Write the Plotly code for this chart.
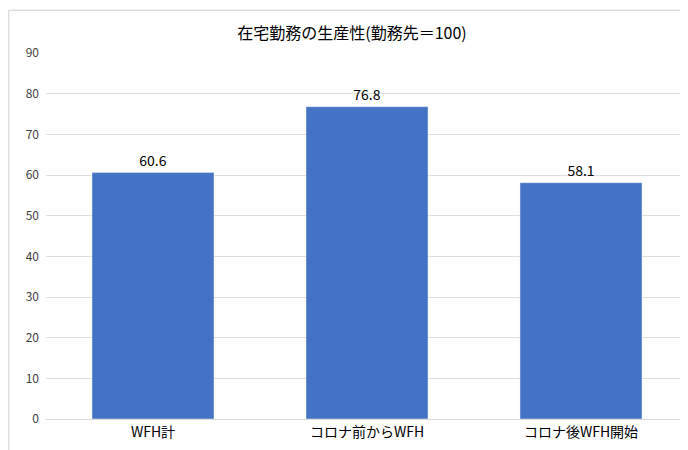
import plotly.graph_objects as go

categories = ["WFH計", "コロナ前からWFH", "コロナ後WFH開始"]
values = [60.6, 76.8, 58.1]
title = "在宅勤務の生産性(勤務先＝100)"

fig = go.Figure()
fig.add_trace(go.Bar(
    x=categories,
    y=values,
    marker=dict(color="#4472C4"),
    text=[f"{v:.1f}" for v in values],
    textposition="outside",
    textfont=dict(size=14, color="#000000"),
    cliponaxis=False,
))

fig.update_layout(
    width=688, height=450,
    title=dict(text=title, x=0.5, y=0.955, xanchor="center",
               font=dict(size=16, color="#000000")),
    font=dict(family="Noto Sans CJK JP", size=14, color="#000000"),
    plot_bgcolor="white", paper_bgcolor="white",
    margin=dict(l=38, r=8, t=45, b=39, autoexpand=False),
    bargap=0.43,
    showlegend=False,
    xaxis=dict(showline=True, linecolor="#d9d9d9", tickfont=dict(size=14),
               automargin=False),
    yaxis=dict(range=[0, 90], dtick=10, gridcolor="#e0e0e0",
               zeroline=False, automargin=False, ticklabelstandoff=6,
               tickfont=dict(size=12, color="#404040")),
    shapes=[dict(type="rect", xref="paper", yref="paper",
                 x0=-0.058, y0=-0.101, x1=1.009, y1=1.117,
                 line=dict(color="#d0d0d0", width=1))],
)

fig.write_html("out.html")
